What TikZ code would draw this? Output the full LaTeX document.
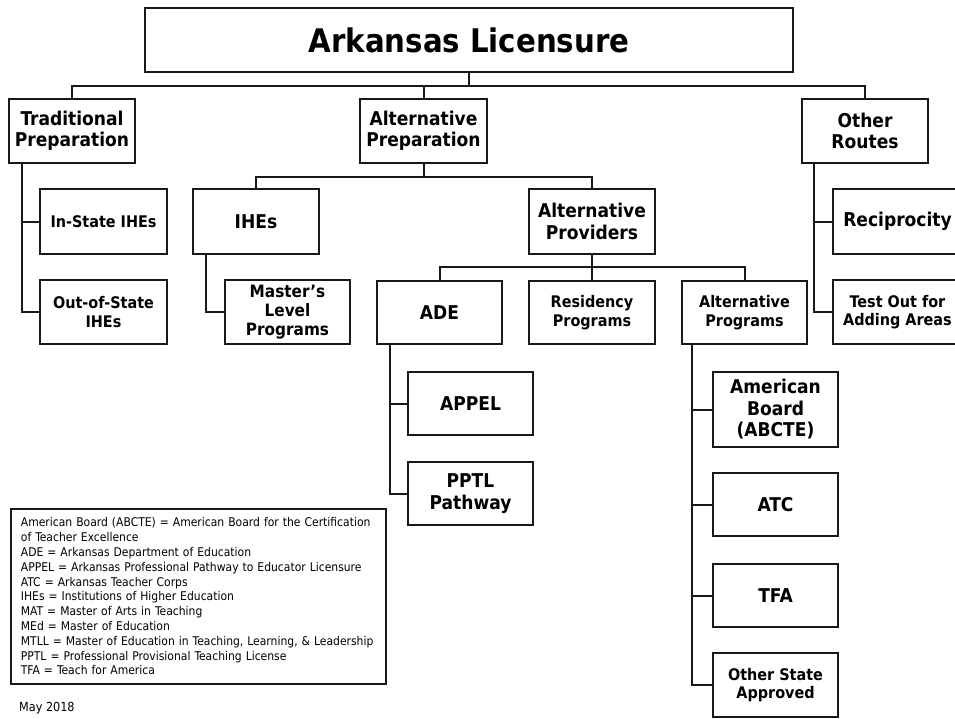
\documentclass[tikz,border=0pt]{standalone}
\usepackage{fontspec}
\setmainfont{DejaVu Sans Condensed}
\usetikzlibrary{calc}
\tikzset{
  box/.style={draw=black!90, line width=1.8pt, rectangle, align=center, inner sep=0pt, font=\bfseries},
  conn/.style={draw=black!90, line width=2pt},
  ftitle/.style={font=\bfseries\fontsize{32.5}{36}\selectfont},
  flg/.style={font=\bfseries\fontsize{19}{21.5}\selectfont},
  fmd/.style={font=\bfseries\fontsize{17}{19}\selectfont},
  fsm/.style={font=\bfseries\fontsize{16}{18.5}\selectfont},
}
\begin{document}
\begin{tikzpicture}[x=1pt,y=-1pt]
\useasboundingbox (0,0) rectangle (955,718);
\fill[white] (0,0) rectangle (955,718);
\clip (0,0) rectangle (955,718);
% level 0
\node[box,ftitle,minimum width=648pt,minimum height=64pt] (title) at (469,40) {Arkansas Licensure};
% level 1
\node[box,flg,minimum width=126pt,minimum height=64pt] (trad) at (72,131) {Traditional\\Preparation};
\node[box,flg,minimum width=127pt,minimum height=64pt] (altprep) at (423.5,131) {Alternative\\Preparation};
\node[box,flg,minimum width=126pt,minimum height=64pt] (other) at (865,131) {Other\\Routes};
% traditional children
\node[box,fsm,minimum width=127pt,minimum height=65pt] (instate) at (103.5,221.5) {In-State IHEs};
\node[box,fsm,minimum width=127pt,minimum height=64pt] (outstate) at (103.5,312) {Out-of-State\\IHEs};
% alternative prep children
\node[box,flg,minimum width=126pt,minimum height=65pt] (ihes) at (256,221.5) {IHEs};
\node[box,fmd,minimum width=125pt,minimum height=64pt] (masters) at (287.5,312) {Master’s\\Level\\Programs};
\node[box,flg,minimum width=126pt,minimum height=65pt] (altprov) at (592,221.5) {Alternative\\Providers};
% providers children
\node[box,flg,minimum width=125pt,minimum height=63pt] (ade) at (439.5,312.5) {ADE};
\node[box,fsm,minimum width=126pt,minimum height=63pt] (resid) at (592,312.5) {Residency\\Programs};
\node[box,fsm,minimum width=125pt,minimum height=63pt] (altprog) at (744.5,312.5) {Alternative\\Programs};
% other routes children
\node[box,flg,minimum width=129pt,minimum height=65pt] (recip) at (897.5,221.5) {Reciprocity};
\node[box,fsm,minimum width=129pt,minimum height=64pt] (testout) at (897.5,312) {Test Out for\\Adding Areas};
% ADE children
\node[box,flg,minimum width=125pt,minimum height=63pt] (appel) at (470.5,403.5) {APPEL};
\node[box,flg,minimum width=125pt,minimum height=63pt] (pptl) at (470.5,493.5) {PPTL\\Pathway};
% alternative programs children
\node[box,flg,minimum width=125pt,minimum height=75pt] (ab) at (775.5,409.5) {American\\Board\\(ABCTE)};
\node[box,flg,minimum width=125pt,minimum height=63pt] (atc) at (775.5,504.5) {ATC};
\node[box,flg,minimum width=125pt,minimum height=63pt] (tfa) at (775.5,595.5) {TFA};
\node[box,fsm,minimum width=125pt,minimum height=64pt] (osa) at (775.5,685) {Other State\\Approved};
% connectors
\coordinate (b1) at (469,86);
\draw[conn] (title.south) -- (b1);
\draw[conn] (trad.north) |- (b1) -| (other.north);
\draw[conn] (altprep.north) -- (altprep.north |- b1);
\coordinate (b2) at (423.5,177);
\draw[conn] (altprep.south) -- (b2);
\draw[conn] (ihes.north) |- (b2) -| (altprov.north);
\coordinate (b3) at (592,267);
\draw[conn] (altprov.south) -- (resid.north);
\draw[conn] (ade.north) |- (b3) -| (altprog.north);
\draw[conn] ([xshift=14pt]trad.south west) |- (outstate.west);
\draw[conn] ([xshift=14pt]trad.south west) |- (instate.west);
\draw[conn] ([xshift=14pt]ihes.south west) |- (masters.west);
\draw[conn] ([xshift=13pt]other.south west) |- (testout.west);
\draw[conn] ([xshift=13pt]other.south west) |- (recip.west);
\draw[conn] ([xshift=14pt]ade.south west) |- (pptl.west);
\draw[conn] ([xshift=14pt]ade.south west) |- (appel.west);
\draw[conn] ([xshift=11pt]altprog.south west) |- (osa.west);
\draw[conn] ([xshift=11pt]altprog.south west) |- (ab.west);
\draw[conn] ([xshift=11pt]altprog.south west) |- (atc.west);
\draw[conn] ([xshift=11pt]altprog.south west) |- (tfa.west);
% legend
\node[draw=black!90, line width=1.8pt, anchor=north west, text width=355pt, inner xsep=10pt, inner ysep=0pt, minimum height=175pt, align=left, font=\fontsize{12}{14.8}\selectfont] (legend) at (10,508) {American Board (ABCTE) = American Board for the Certification\\of Teacher Excellence\\ADE = Arkansas Department of Education\\APPEL = Arkansas Professional Pathway to Educator Licensure\\ATC = Arkansas Teacher Corps\\IHEs = Institutions of Higher Education\\MAT = Master of Arts in Teaching\\MEd = Master of Education\\MTLL = Master of Education in Teaching, Learning, \& Leadership\\PPTL = Professional Provisional Teaching License\\TFA = Teach for America};
\node[anchor=west, inner sep=0pt, font=\fontsize{12.5}{14}\selectfont] (date) at (19,708) {May 2018};
\end{tikzpicture}
\end{document}
